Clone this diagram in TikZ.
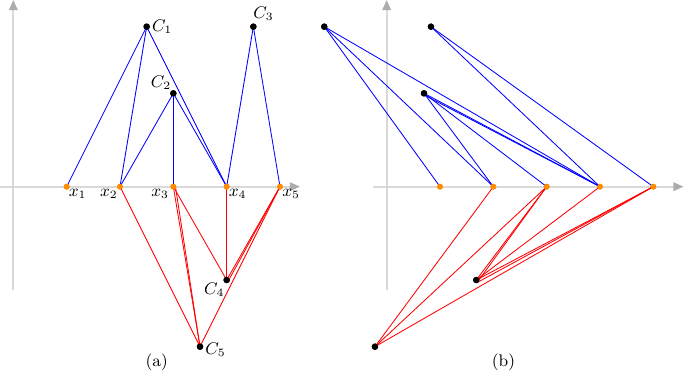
\documentclass[tikz,border=0pt]{standalone}
\usetikzlibrary{arrows.meta,calc}
\definecolor{dotorange}{RGB}{255,140,0}
\begin{document}
\begin{tikzpicture}[
  font=\fontsize{9}{10.5}\selectfont,
  axisline/.style={draw=gray!30,line width=1pt,-{Triangle[length=0.19cm,width=0.16cm,color=gray!65]}},
  pt/.style={circle,fill=dotorange,inner sep=0pt,minimum size=0.11cm},
  ctr/.style={circle,fill=black,inner sep=0pt,minimum size=0.12cm},
  bl/.style={blue,line width=0.45pt},
  rd/.style={red,line width=0.45pt},
  lab/.style={inner sep=1pt}
]
\useasboundingbox (-0.25,-3.5125) rectangle (12.575,3.5);
% axes (a)
\coordinate (axl) at (-0.25,0);
\coordinate (axr) at (5.375,0);
\coordinate (ayb) at (0,-1.94);
\coordinate (ayt) at (0,3.5);
\draw[axisline] (axl) -- (axr);
\draw[axisline] (ayb) -- (ayt);
% axes (b)
\coordinate (bxl) at (6.75,0);
\coordinate (bxr) at (12.565,0);
\coordinate (byb) at (7,-1.94);
\coordinate (byt) at (7,3.5);
\draw[axisline] (bxl) -- (bxr);
\draw[axisline] (byb) -- (byt);

% points (a)
\foreach \i in {1,...,5} { \node[pt] (x\i) at (\i,0) {}; }
\node[ctr] (c1) at (2.5,3) {};
\node[ctr] (c2) at (3,1.75) {};
\node[ctr] (c3) at (4.5,3) {};
\node[ctr] (c4) at (4,-1.75) {};
\node[ctr] (c5) at (3.5,-3) {};
% points (b)
\foreach \i in {1,...,5} { \node[pt] (y\i) at (7+\i,0) {}; }
\node[ctr] (d1) at (5.83,3) {};
\node[ctr] (d2) at (7.70,1.75) {};
\node[ctr] (d3) at (7.83,3) {};
\node[ctr] (d4) at (8.68,-1.75) {};
\node[ctr] (d5) at (6.78,-3) {};

% edges (a)
\draw[bl] (c1.center) -- (x1.center);
\draw[bl] (c1.center) -- (x2.center);
\draw[bl] (c1.center) -- (x4.center);
\draw[bl] (c2.center) -- (x2.center);
\draw[bl] (c2.center) -- (x3.center);
\draw[bl] (c2.center) -- (x4.center);
\draw[bl] (c3.center) -- (x4.center);
\draw[bl] (c3.center) -- (x5.center);
\draw[rd] (x2.center) -- (c5.center);
\draw[rd] (x3.center) -- (c5.center);
\draw[rd] ($(x3.center)+(0.04,0)$) -- (c5.center);
\draw[rd] (x3.center) -- (c4.center);
\draw[rd] (x4.center) -- (c4.center);
\draw[rd] (x5.center) -- (c4.center);
\draw[rd] (x5.center) -- ($(c4.center)+(0.05,0.02)$);
\draw[rd] (x5.center) -- (c5.center);

% edges (b)
\draw[bl] (d1.center) -- (y1.center);
\draw[bl] (d1.center) -- (y2.center);
\draw[bl] (d1.center) -- (y4.center);
\draw[bl] (d2.center) -- (y2.center);
\draw[bl] (d2.center) -- (y3.center);
\draw[bl] (d2.center) -- (y4.center);
\draw[bl] ($(d2.center)+(0.02,-0.04)$) -- (y4.center);
\draw[bl] (d3.center) -- (y4.center);
\draw[bl] (d3.center) -- (y5.center);
\draw[rd] (d5.center) -- (y2.center);
\draw[rd] (d5.center) -- (y3.center);
\draw[rd] (d5.center) -- (y5.center);
\draw[rd] (d4.center) -- (y3.center);
\draw[rd] ($(d4.center)+(0.05,0)$) -- (y3.center);
\draw[rd] (d4.center) -- (y4.center);
\draw[rd] (d4.center) -- (y5.center);
\draw[rd] ($(d4.center)+(0.03,-0.04)$) -- (y5.center);

% redraw dots on top
\foreach \n in {x1,x2,x3,x4,x5,y1,y2,y3,y4,y5} { \fill[dotorange] (\n.center) circle (0.055); }
\foreach \n in {c1,c2,c3,c4,c5,d1,d2,d3,d4,d5} { \fill[black] (\n.center) circle (0.06); }

% labels (a)
\node[lab,anchor=west] (lc1) at ($(c1.center)+(0.06,0)$) {$C_1$};
\node[lab,anchor=south east] (lc2) at ($(c2.center)+(0,0.03)$) {$C_2$};
\node[lab,anchor=south west] (lc3) at ($(c3.center)+(-0.04,0.08)$) {$C_3$};
\node[lab,anchor=north east] (lc4) at ($(c4.center)+(0,-0.02)$) {$C_4$};
\node[lab,anchor=west] (lc5) at ($(c5.center)+(0.06,-0.05)$) {$C_5$};
\node[lab,anchor=north west] (lx1) at (x1.center) {$x_1$};
\node[lab,anchor=north east] (lx2) at (x2.center) {$x_2$};
\node[lab,anchor=north east] (lx3) at ($(x3.center)+(-0.04,0)$) {$x_3$};
\node[lab,anchor=north west] (lx4) at (x4.center) {$x_4$};
\node[lab,anchor=north west] (lx5) at (x5.center) {$x_5$};
% captions
\node (capa) at (2.69,-3.29) {(a)};
\node (capb) at (9.19,-3.29) {(b)};
\end{tikzpicture}
\end{document}
